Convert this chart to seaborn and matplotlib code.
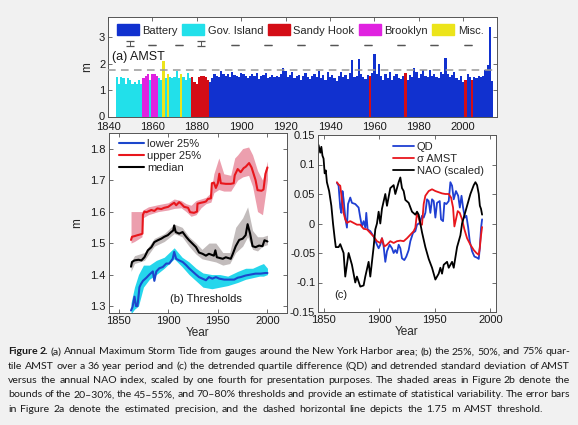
import numpy as np
import pandas as pd
import matplotlib
matplotlib.use("Agg")
import matplotlib.pyplot as plt
from matplotlib.patches import Patch
import seaborn as sns

# ---------------- (a) annual maximum storm tide ----------------
amst_years = list(range(1844, 2014))
amst_values = [
    # 1844-1877 (Gov. Island / Brooklyn / Misc.)
    1.50, 1.25, 1.50, 1.45, 1.25, 1.45, 1.40, 1.22, 1.30, 1.25, 1.40, 1.22,
    1.45, 1.55, 1.62, 1.38, 1.62, 1.62, 1.55, 1.45, 1.40, 2.10, 1.45, 1.60,
    1.50, 1.45, 1.50, 1.72, 1.45, 1.60, 1.50, 1.40, 1.65, 1.45,
    # 1878-1885 Sandy Hook
    1.50, 1.30, 1.22, 1.50, 1.52, 1.52, 1.48, 1.38,
    # 1886-2013 Battery
    1.30, 1.45, 1.62, 1.55, 1.50, 1.72, 1.62, 1.55, 1.60, 1.48,
    1.70, 1.58, 1.52, 1.48, 1.66, 1.60, 1.54, 1.46, 1.52, 1.62,
    1.52, 1.66, 1.42, 1.55, 1.58, 1.64, 1.45, 1.50, 1.56, 1.48,
    1.55, 1.50, 1.62, 1.82, 1.74, 1.50, 1.56, 1.68, 1.46, 1.52,
    1.58, 1.40, 1.52, 1.66, 1.48, 1.42, 1.54, 1.62, 1.50, 1.72,
    1.45, 1.56, 1.40, 1.68, 1.50, 1.58, 1.46, 1.36, 1.52, 1.70,
    1.48, 1.56, 1.42, 1.64, 2.15, 1.48, 1.55, 2.18, 1.60, 1.50,
    1.42, 1.58, 1.55, 1.65, 2.35, 1.60, 2.00, 1.55, 1.38, 1.62,
    1.45, 1.70, 1.38, 1.52, 1.60, 1.45, 1.42, 1.55, 1.65, 1.40,
    1.58, 1.50, 1.82, 1.70, 1.45, 1.60, 1.78, 1.55, 1.48, 1.75,
    1.52, 1.62, 1.50, 1.45, 1.68, 1.60, 2.20, 1.62, 1.48, 1.58,
    1.70, 1.45, 1.40, 1.55, 1.32, 1.40, 1.60, 1.50, 1.40, 1.48,
    1.45, 1.55, 1.50, 1.52, 1.75, 1.95, 3.40, 1.35,
]
gov_years = list(range(1844, 1856)) + [1859, 1863, 1864, 1866, 1868, 1869, 1870,
                                      1871, 1872, 1874, 1875, 1876, 1877]
brooklyn_years = [1856, 1857, 1858, 1860, 1861, 1862]
misc_years = [1865, 1867, 1873]
sandy_years = list(range(1878, 1886)) + [1958, 1974, 2001, 2004]

gauge_names = ["Battery", "Gov. Island", "Sandy Hook", "Brooklyn", "Misc."]
gauge_colors = ["#1131cf", "#22e0ea", "#d40d16", "#e022e0", "#ece41a"]

err_years = [1850, 1860, 1872, 1882, 1897, 1912, 1927, 1942, 1957, 1972, 1987, 2002]
err_center = [2.78, 2.72, 2.72, 2.78, 2.72, 2.72, 2.72, 2.72, 2.72, 2.72, 2.72, 2.72]
err_size = [0.09, 0.005, 0.005, 0.09, 0.005, 0.005, 0.005, 0.005, 0.005, 0.005, 0.005, 0.005]
amst_threshold = 1.75

# ---------------- (b) thresholds ----------------
upper_years = [1862.5, 1863.5, 1866, 1869, 1872.5, 1874, 1874.5, 1876, 1878, 1883, 1886,
               1889, 1893, 1896, 1900, 1903, 1906, 1908, 1911, 1913, 1916, 1920, 1922,
               1926, 1929, 1929.5, 1933, 1936, 1938, 1940, 1943, 1944, 1946, 1948, 1950,
               1951.5, 1953, 1958, 1963, 1966, 1967, 1970, 1973, 1976, 1978, 1981.5, 1984,
               1986, 1988, 1990, 1994, 1996, 1998, 2000]
upper_vals = [1.510, 1.520, 1.522, 1.525, 1.528, 1.530, 1.590, 1.600, 1.598, 1.605, 1.602,
              1.610, 1.608, 1.612, 1.615, 1.622, 1.628, 1.620, 1.630, 1.625, 1.615, 1.612, 1.598,
              1.596, 1.600, 1.625, 1.628, 1.630, 1.632, 1.640, 1.642, 1.690, 1.692, 1.675, 1.690,
              1.720, 1.690, 1.688, 1.688, 1.690, 1.715, 1.735, 1.725, 1.738, 1.742, 1.754, 1.740,
              1.720, 1.700, 1.668, 1.666, 1.670, 1.720, 1.740]
pink_years = [1862.5, 1866, 1873.5, 1874.5, 1880, 1890, 1900, 1906, 1913, 1918, 1923, 1928,
              1933, 1938, 1943, 1946, 1951, 1956, 1963, 1967, 1970, 1975, 1981, 1985, 1990,
              1995, 2000]
pink_lo = [1.50, 1.505, 1.52, 1.58, 1.59, 1.60, 1.605, 1.61, 1.612, 1.60, 1.585, 1.59, 1.612,
           1.625, 1.63, 1.66, 1.67, 1.665, 1.665, 1.685, 1.70, 1.71, 1.715, 1.68, 1.60, 1.59, 1.70]
pink_hi = [1.60, 1.60, 1.60, 1.605, 1.615, 1.622, 1.628, 1.64, 1.635, 1.625, 1.62, 1.635, 1.64,
           1.645, 1.66, 1.72, 1.77, 1.72, 1.715, 1.77, 1.78, 1.80, 1.805, 1.78, 1.73, 1.70, 1.76]

median_years = [1862.5, 1863.5, 1866, 1870, 1873, 1876, 1879.5, 1883, 1886, 1889.5, 1893, 1896,
                1899.5, 1903, 1905, 1906, 1907.5, 1911, 1914.5, 1918, 1921, 1924.5, 1928, 1931,
                1934.5, 1938, 1941, 1946, 1947.5, 1949, 1955, 1958, 1963, 1965, 1968, 1971.5,
                1975, 1978, 1980, 1982.5, 1985, 1988, 1991.5, 1995, 1997, 2000]
median_vals = [1.425, 1.44, 1.445, 1.447, 1.445, 1.455, 1.477, 1.487, 1.503, 1.509, 1.514, 1.52,
               1.525, 1.535, 1.540, 1.556, 1.535, 1.530, 1.535, 1.52, 1.509, 1.498, 1.487, 1.47,
               1.466, 1.46, 1.466, 1.46, 1.477, 1.455, 1.450, 1.455, 1.450, 1.465, 1.49, 1.51,
               1.514, 1.525, 1.56, 1.53, 1.49, 1.487, 1.492, 1.49, 1.509, 1.505]
gray_years = [1862.5, 1866, 1876, 1886, 1896, 1906, 1914, 1921, 1928, 1934, 1941, 1948, 1955,
              1962, 1968, 1975, 1980, 1985, 1990, 1995, 2000]
gray_lo = [1.41, 1.435, 1.445, 1.49, 1.505, 1.53, 1.52, 1.49, 1.465, 1.45, 1.445, 1.44, 1.43,
           1.435, 1.47, 1.49, 1.52, 1.48, 1.475, 1.49, 1.495]
gray_hi = [1.44, 1.46, 1.47, 1.515, 1.53, 1.56, 1.55, 1.52, 1.50, 1.48, 1.50, 1.50, 1.47,
           1.47, 1.55, 1.58, 1.615, 1.54, 1.52, 1.52, 1.525]

lower_years = [1862.5, 1864, 1866, 1867.5, 1869, 1871, 1872.5, 1874.5, 1878, 1881, 1884.5, 1886,
               1888, 1891, 1894.5, 1898, 1901, 1904.5, 1906, 1908, 1911, 1914.5, 1918, 1921,
               1924.5, 1928, 1931, 1934.5, 1938, 1941, 1944.5, 1948, 1951.5, 1956.5, 1961.5,
               1966.5, 1970, 1973, 1978, 1983, 1988, 1993, 1998, 2000]
lower_vals = [1.286, 1.297, 1.33, 1.30, 1.30, 1.36, 1.37, 1.38, 1.39, 1.40, 1.41, 1.38,
              1.41, 1.42, 1.424, 1.435, 1.435, 1.45, 1.472, 1.45, 1.445, 1.44, 1.43, 1.42,
              1.41, 1.40, 1.392, 1.387, 1.382, 1.392, 1.387, 1.392, 1.387, 1.384, 1.384,
              1.384, 1.39, 1.392, 1.397, 1.40, 1.403, 1.403, 1.405, 1.405]
cyan_years = [1862.5, 1866, 1870, 1875, 1881, 1888, 1896, 1906, 1914, 1921, 1928, 1935, 1944,
              1952, 1960, 1970, 1978, 1985, 1992, 1996, 2000]
cyan_lo = [1.275, 1.29, 1.30, 1.36, 1.385, 1.40, 1.42, 1.45, 1.425, 1.40, 1.38, 1.36, 1.355,
           1.36, 1.365, 1.375, 1.385, 1.39, 1.395, 1.395, 1.40]
cyan_hi = [1.31, 1.36, 1.40, 1.43, 1.43, 1.445, 1.455, 1.485, 1.455, 1.44, 1.42, 1.405, 1.40,
           1.40, 1.395, 1.41, 1.42, 1.42, 1.43, 1.435, 1.42]

# ---------------- (c) QD, sigma AMST, NAO ----------------
qd_years = [1862, 1863.5, 1865, 1866, 1867, 1868, 1869.5, 1871, 1872, 1874, 1875.5, 1878.5,
            1881.5, 1883, 1884.5, 1886, 1887.5, 1888.4, 1889.6, 1892, 1895, 1898, 1899.5,
            1901, 1902.5, 1904, 1905.5, 1907, 1909.4, 1911.5, 1913, 1914.5, 1916, 1917.5,
            1919, 1920.5, 1922.6, 1924.4, 1926.5, 1928, 1930.4, 1932.5, 1934, 1936.4, 1938.5,
            1940, 1941.5, 1943, 1944.5, 1946, 1947.5, 1949, 1950.5, 1952, 1954.4, 1955.6,
            1957.4, 1958.6, 1960.4, 1962.5, 1964, 1965.5, 1967, 1969, 1971, 1972.5, 1974,
            1975.4, 1977, 1978.4, 1980, 1981.4, 1983.5, 1985.6, 1988, 1989.5, 1990.4, 1991.6,
            1992.5]
qd_vals = [0.069, 0.064, 0.027, 0.018, 0.055, 0.041, 0.010, -0.007, 0.033, 0.044, 0.035, 0.033,
           0.027, 0.010, -0.005, 0.004, -0.007, 0.018, -0.010, -0.013, -0.022, -0.036, -0.042,
           -0.036, -0.025, -0.039, -0.065, -0.047, -0.036, -0.042, -0.050, -0.045, -0.050, -0.036,
           -0.042, -0.059, -0.062, -0.056, -0.045, -0.030, -0.016, -0.013, -0.002, 0.001, 0.013,
           0.010, 0.018, 0.041, 0.038, 0.018, 0.041, 0.038, 0.010, 0.035, 0.038, 0.007,
           0.004, 0.035, 0.033, 0.038, 0.070, 0.064, 0.041, 0.055, 0.047, 0.027, 0.047,
           0.027, 0.010, 0.013, -0.007, -0.030, -0.047, -0.056, -0.058, -0.060, -0.042, -0.007,
           0.007]
sigma_years = [1862, 1863.5, 1865, 1866.5, 1868, 1869.5, 1871, 1874, 1877, 1880, 1883, 1886,
               1889, 1892, 1895, 1898, 1901, 1902.5, 1904.6, 1907, 1910, 1913, 1916, 1919, 1922,
               1925, 1928, 1931, 1932.5, 1934, 1935.5, 1937, 1938.5, 1940, 1941.5, 1944.5,
               1947.5, 1950.5, 1953.5, 1956.5, 1959.5, 1962.5, 1964.6, 1966.4, 1967.6, 1969,
               1970.6, 1972.4, 1974.5, 1976.6, 1979, 1982, 1985, 1987.4, 1989.5, 1990.4, 1991.6,
               1992.5]
sigma_vals = [0.070, 0.066, 0.064, 0.041, 0.018, 0.007, 0.001, 0.004, 0.001, -0.002, -0.002,
              -0.009, -0.010, -0.016, -0.022, -0.030, -0.033, -0.025, -0.039, -0.036, -0.030,
              -0.033, -0.030, -0.029, -0.030, -0.025, -0.019, -0.013, -0.007, 0.018, 0.010,
              -0.002, -0.002, 0.033, 0.047, 0.055, 0.058, 0.055, 0.053, 0.051, 0.050, 0.050,
              0.044, 0.027, -0.005, 0.007, 0.021, 0.018, 0.007, -0.010, -0.025, -0.036, -0.045,
              -0.050, -0.053, -0.042, -0.019, -0.006]
nao_years = [1845.5, 1847, 1848, 1849, 1850, 1851, 1852, 1853, 1855, 1857, 1858.5, 1860, 1861,
             1863.5, 1865, 1868, 1869.5, 1871, 1872.5, 1875.5, 1878.5, 1880, 1883, 1886, 1887.5,
             1890.5, 1892, 1895, 1896.5, 1898, 1899.5, 1901, 1902.5, 1905.5, 1907, 1910, 1913,
             1914.5, 1917.5, 1919, 1920.5, 1922, 1923.5, 1926.5, 1929.5, 1932.5, 1934, 1935.5,
             1937, 1938.5, 1941.5, 1944.5, 1947.5, 1950.5, 1952, 1953.5, 1955, 1956.5, 1958,
             1961, 1962.5, 1965.5, 1967, 1970, 1971.5, 1973, 1974.5, 1976, 1979, 1982, 1985,
             1986.5, 1988, 1989.5, 1990.5, 1991.5, 1992.5]
nao_vals = [0.133, 0.120, 0.130, 0.115, 0.110, 0.085, 0.090, 0.070, 0.055, 0.030, 0.000, -0.025,
            -0.040, -0.040, -0.035, -0.050, -0.090, -0.070, -0.050, -0.070, -0.100, -0.090, -0.107,
            -0.105, -0.090, -0.065, -0.090, -0.040, -0.010, 0.000, 0.020, 0.000, 0.025, 0.050,
            0.030, 0.060, 0.065, 0.050, 0.070, 0.078, 0.060, 0.055, 0.040, 0.035, 0.020, 0.015,
            0.020, 0.015, 0.000, -0.015, -0.040, -0.060, -0.075, -0.095, -0.090, -0.085, -0.075,
            -0.085, -0.070, -0.065, -0.075, -0.065, -0.075, -0.040, -0.030, -0.020, 0.000, 0.010,
            0.030, 0.050, 0.065, 0.070, 0.065, 0.050, 0.030, 0.025, 0.015]

caption_lines = [
    "(a) Annual Maximum Storm Tide from gauges around the New York Harbor area; (b) the 25%, 50%, and 75% quar-",
    "tile AMST over a 36 year period and (c) the detrended quartile difference (QD) and detrended standard deviation of AMST",
    "versus the annual NAO index, scaled by one fourth for presentation purposes. The shaded areas in Figure 2b denote the",
    "bounds of the 20\u201330%, the 45\u201355%, and 70\u201380% thresholds and provide an estimate of statistical variability. The error bars",
    "in Figure 2a denote the estimated precision, and the dashed horizontal line depicts the 1.75 m AMST threshold.",
]

# ---------------- style ----------------
sns.set_theme(style="ticks")
plt.rcParams["font.family"] = ["Liberation Sans", "DejaVu Sans"]
plt.rcParams["font.size"] = 8
plt.rcParams["axes.edgecolor"] = "#555555"
plt.rcParams["axes.linewidth"] = 0.7
plt.rcParams["xtick.color"] = "#555555"
plt.rcParams["ytick.color"] = "#555555"
plt.rcParams["xtick.labelcolor"] = "#1a1a1a"
plt.rcParams["ytick.labelcolor"] = "#1a1a1a"
plt.rcParams["xtick.labelsize"] = 8
plt.rcParams["ytick.labelsize"] = 8

W, H = 578, 425
fig = plt.figure(figsize=(W / 100, H / 100), dpi=100, facecolor="#f1f1f1")


def box(left, top, right, bottom):
    return [left / W, 1 - bottom / H, (right - left) / W, (bottom - top) / H]


def matlab_ticks(ax, xpad=2):
    ax.tick_params(direction="in", top=True, right=True, length=3, width=0.6, pad=2)
    ax.tick_params(axis="x", pad=xpad)


# ---------------- panel (a) ----------------
ax_a = fig.add_axes(box(108, 17, 496.5, 116.5))
ax_a.set_facecolor("white")
gauges = []
for y in amst_years:
    if y in sandy_years:
        gauges.append("Sandy Hook")
    elif y in gov_years:
        gauges.append("Gov. Island")
    elif y in brooklyn_years:
        gauges.append("Brooklyn")
    elif y in misc_years:
        gauges.append("Misc.")
    else:
        gauges.append("Battery")
df_a = pd.DataFrame({"year": amst_years, "amst": amst_values, "gauge": gauges})
palette = dict(zip(gauge_names, gauge_colors))
sns.histplot(data=df_a, x="year", weights="amst", hue="gauge", hue_order=gauge_names,
             palette=palette, discrete=True, multiple="layer", alpha=1, linewidth=0,
             shrink=1, legend=False, ax=ax_a)
ax_a.axhline(amst_threshold, color="#999999", ls=(0, (5, 3.5)), lw=1.1, zorder=3)
ax_a.errorbar(err_years, err_center, yerr=err_size, fmt="none", ecolor="#555555",
              elinewidth=0.7, capsize=2.7, capthick=0.9, zorder=4)
ax_a.set_xlim(1840, 2015)
ax_a.set_ylim(0, 3.77)
ax_a.set_xticks(range(1840, 2001, 20))
ax_a.set_yticks([0, 1, 2, 3])
ax_a.set_xlabel("")
ax_a.set_ylabel("m", fontsize=8.5, labelpad=4)
ax_a.text(1842, 2.27, "(a) AMST", fontsize=9, va="center", color="#1a1a1a")
matlab_ticks(ax_a, xpad=4)
handles = [Patch(facecolor=c, edgecolor=c) for c in gauge_colors]
ax_a.legend(handles, gauge_names, loc="center left", bbox_to_anchor=(0.022, 0.87),
            ncol=5, frameon=False, fontsize=8, handlelength=2.0, handleheight=1.15,
            handletextpad=0.3, columnspacing=0.4, borderpad=0, borderaxespad=0)

# ---------------- panel (b) ----------------
ax_b = fig.add_axes(box(108.7, 132.5, 287.3, 313))
ax_b.set_facecolor("white")
ax_b.fill_between(pink_years, pink_lo, pink_hi, color="#ec9fae", lw=0)
ax_b.fill_between(gray_years, gray_lo, gray_hi, color="#c2bcbc", lw=0)
ax_b.fill_between(cyan_years, cyan_lo, cyan_hi, color="#25d6ec", lw=0)
sns.lineplot(x=lower_years, y=lower_vals, color="#1c47cc", lw=1.5, estimator=None,
             label="lower 25%", ax=ax_b)
sns.lineplot(x=upper_years, y=upper_vals, color="#e8161c", lw=1.5, estimator=None,
             label="upper 25%", ax=ax_b)
sns.lineplot(x=median_years, y=median_vals, color="black", lw=1.5, estimator=None,
             label="median", ax=ax_b)
ax_b.set_xlim(1840, 2020)
ax_b.set_ylim(1.278, 1.851)
ax_b.set_xticks([1850, 1900, 1950, 2000])
ax_b.set_yticks([1.3, 1.4, 1.5, 1.6, 1.7, 1.8])
ax_b.set_yticklabels(["1.3", "1.4", "1.5", "1.6", "1.7", "1.8"])
ax_b.set_xlabel("Year", fontsize=8.5, labelpad=1)
ax_b.set_ylabel("m", fontsize=8.5, labelpad=5)
ax_b.text(1902, 1.322, "(b) Thresholds", fontsize=8, va="center", color="#1a1a1a")
matlab_ticks(ax_b)
ax_b.legend(loc="upper left", frameon=False, fontsize=8, handlelength=2.3,
            handletextpad=0.25, labelspacing=0.18, borderpad=0.1,
            bbox_to_anchor=(0.02, 1.0))

# ---------------- panel (c) ----------------
ax_c = fig.add_axes(box(318, 135, 496, 312))
ax_c.set_facecolor("white")
sns.lineplot(x=qd_years, y=qd_vals, color="#1f3fd2", lw=1.3, estimator=None,
             label="QD", ax=ax_c)
sns.lineplot(x=sigma_years, y=sigma_vals, color="#e8161c", lw=1.3, estimator=None,
             label="\u03c3 AMST", ax=ax_c)
sns.lineplot(x=nao_years, y=nao_vals, color="black", lw=1.3, estimator=None,
             label="NAO (scaled)", ax=ax_c)
ax_c.set_xlim(1845, 2005)
ax_c.set_ylim(-0.15, 0.15)
ax_c.set_xticks([1850, 1900, 1950, 2000])
ax_c.set_yticks([-0.15, -0.1, -0.05, 0, 0.05, 0.1, 0.15])
ax_c.set_yticklabels(["-0.15", "-0.1", "-0.05", "0", "0.05", "0.1", "0.15"])
ax_c.set_xlabel("Year", fontsize=8.5, labelpad=1)
ax_c.set_ylabel("")
ax_c.text(1860, -0.122, "(c)", fontsize=8, va="center", color="#1a1a1a")
matlab_ticks(ax_c)
ax_c.legend(loc="upper right", frameon=False, fontsize=8, handlelength=1.9,
            handletextpad=0.3, labelspacing=0.2, borderpad=0.1,
            bbox_to_anchor=(0.97, 1.0))

# ---------------- caption (justified word by word) ----------------
renderer = fig.canvas.get_renderer()
cap_font = dict(family=["Lato", "DejaVu Sans"], fontsize=7.55, color="#1a1a1a", va="center")
cap_left = 8
cap_right = [570, 570, 570, 570, 543]
cap_y = [352, 366.3, 380.6, 394.9, 409.2]
for i, line in enumerate(caption_lines):
    words = [(w, False) for w in line.split(" ")]
    if i == 0:
        words = [("Figure", True), ("2.", True)] + words
    arts = [fig.text(0, 1 - cap_y[i] / H, w, fontweight="bold" if b else "normal", **cap_font)
            for w, b in words]
    widths = [t.get_window_extent(renderer).width for t in arts]
    gap = (cap_right[i] - cap_left - sum(widths)) / (len(arts) - 1)
    x = cap_left
    for t, w in zip(arts, widths):
        t.set_x(x / W)
        x += w + gap

fig.savefig("out.png", dpi=100, facecolor=fig.get_facecolor())
